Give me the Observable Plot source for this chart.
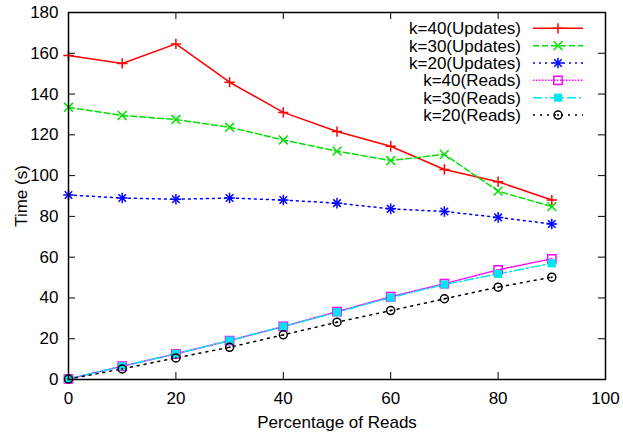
<!DOCTYPE html>
<html><head><meta charset="utf-8">
<script src="https://cdn.jsdelivr.net/npm/d3@7"></script>
<script src="https://cdn.jsdelivr.net/npm/@observablehq/plot@0.6"></script>
<style>body{margin:0;background:#fff} svg{display:block}</style>
</head><body><div id="chart"></div>
<script>
const xValues = [0, 10, 20, 30, 40, 50, 60, 70, 80, 90];
const k40Updates = [158.9, 155, 164.6, 145.8, 131, 121.6, 114.4, 103, 97, 88];
const k30Updates = [133.5, 129.5, 127.5, 123.7, 117.5, 112, 107.4, 110.4, 92.4, 84.8];
const k20Updates = [90.5, 89, 88.4, 89, 88, 86.5, 83.7, 82.4, 79.5, 76.3];
const k40Reads = [0.3, 6.5, 12.6, 19.1, 26, 33.3, 40.6, 47, 53.8, 59.2];
const k30Reads = [0.3, 6.5, 12.6, 19.1, 26, 33, 40.2, 46.6, 51.8, 57];
const k20Reads = [0.2, 5.2, 10.6, 15.8, 21.9, 28.1, 33.8, 39.6, 45.3, 50.2];
const seriesNames = ["k=40(Updates)", "k=30(Updates)", "k=20(Updates)", "k=40(Reads)", "k=30(Reads)", "k=20(Reads)"];
const xTicks = [0, 20, 40, 60, 80, 100];
const yTicks = [0, 20, 40, 60, 80, 100, 120, 140, 160, 180];

const W = 623, H = 439;
const mL = 68, mR = 18, mT = 12, mB = 60;
const FW = W - mL - mR, FH = H - mT - mB;

const seriesValues = [k40Updates, k30Updates, k20Updates, k40Reads, k30Reads, k20Reads];
const styles = [
  {color: "#ff0000", dash: null, sym: ["plus"], r: 3.4},
  {color: "#00e000", dash: "6,3", sym: ["times"], r: 4.1},
  {color: "#0000ff", dash: "2,4", sym: ["plus", "times"], r: 3.5},
  {color: "#ff00ff", dash: "1.5,1.5", sym: ["square2"], r: 5.3},
  {color: "#00e5ee", dash: "9,3,2,3", sym: ["square"], r: 4.6},
  {color: "#000000", dash: "2,5", sym: ["circle", "dotc"], r: 4}
];

const data = seriesNames.map((name, i) => xValues.map((x, j) => ({name, x, y: seriesValues[i][j]})));

const marks = [];
data.forEach((rows, i) => {
  const s = styles[i];
  marks.push(Plot.line(rows, {x: "x", y: "y", stroke: s.color, strokeWidth: 1.5, strokeDasharray: s.dash}));
});
data.forEach((rows, i) => {
  const s = styles[i];
  s.sym.forEach(sym => {
    if (sym === "square") marks.push(Plot.dot(rows, {x: "x", y: "y", symbol: "square", r: s.r, fill: s.color}));
    else if (sym === "dotc") marks.push(Plot.dot(rows, {x: "x", y: "y", r: 1, fill: s.color}));
    else marks.push(Plot.dot(rows, {x: "x", y: "y", symbol: sym, r: s.r, stroke: s.color, strokeWidth: 1.5}));
  });
});

const plot = Plot.plot({
  width: W, height: H,
  marginLeft: mL, marginRight: mR, marginTop: mT, marginBottom: mB,
  style: {fontFamily: "'Liberation Sans', Arial, sans-serif", fontSize: "17px", background: "#fff", color: "#000"},
  x: {domain: [0, 100]},
  y: {domain: [0, 180]},
  marks: [
    Plot.axisY({ticks: yTicks, tickSize: 0, tickPadding: 10, label: "Time (s)", labelAnchor: "center", labelArrow: "none", labelOffset: 54}),
    Plot.axisX({ticks: xTicks, tickSize: 0, tickPadding: 12, label: "Percentage of Reads", labelAnchor: "center", labelArrow: "none", labelOffset: 48}),
    Plot.tickY(yTicks, {y: d => d, insetRight: FW - 7, stroke: "black", strokeWidth: 1}),
    Plot.tickY(yTicks, {y: d => d, insetLeft: FW - 7, stroke: "black", strokeWidth: 1}),
    Plot.tickX(xTicks, {x: d => d, insetTop: FH - 7, stroke: "black", strokeWidth: 1}),
    Plot.tickX(xTicks, {x: d => d, insetBottom: FH - 7, stroke: "black", strokeWidth: 1}),
    ...marks,
    Plot.frame({stroke: "black", strokeWidth: 1.5})
  ]
});

// legend
const svg = d3.select(plot);
const lg = svg.append("g").attr("font-family", "'Liberation Sans', Arial, sans-serif").attr("font-size", 17);
const symMap = {plus: d3.symbolPlus, times: d3.symbolTimes, circle: d3.symbolCircle, square: d3.symbolSquare, square2: d3.symbolSquare2};
seriesNames.forEach((name, i) => {
  const s = styles[i];
  const y = 28.3 + i * 17.35;
  lg.append("text").attr("x", 521).attr("y", y).attr("dy", "0.35em").attr("text-anchor", "end").attr("fill", "#000").text(name);
  lg.append("line").attr("x1", 533).attr("x2", 583).attr("y1", y).attr("y2", y)
    .attr("stroke", s.color).attr("stroke-width", 1.5).attr("stroke-dasharray", s.dash);
  s.sym.forEach(sym => {
    if (sym === "dotc") {
      lg.append("circle").attr("cx", 558).attr("cy", y).attr("r", 1).attr("fill", s.color);
      return;
    }
    const size = s.r * s.r * Math.PI;
    const p = lg.append("path").attr("transform", `translate(558,${y})`).attr("d", d3.symbol(symMap[sym], size)());
    if (sym === "square") p.attr("fill", s.color);
    else p.attr("fill", "none").attr("stroke", s.color).attr("stroke-width", 1.5);
  });
});

document.getElementById("chart").appendChild(plot);
</script>
</body></html>
